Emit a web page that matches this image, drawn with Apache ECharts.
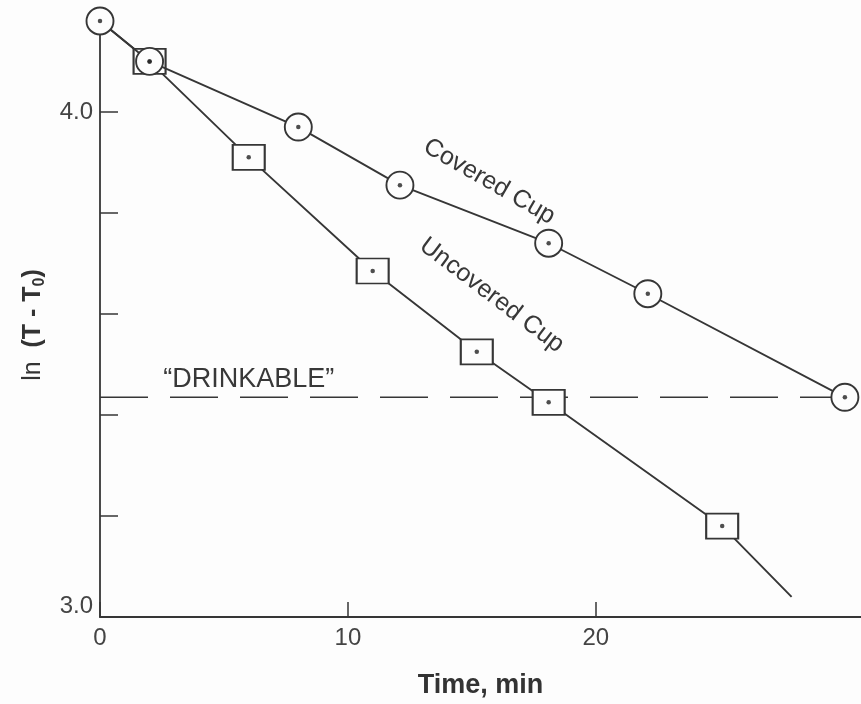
<!DOCTYPE html>
<html>
<head>
<meta charset="utf-8">
<script src="https://cdn.jsdelivr.net/npm/echarts@6/dist/echarts.min.js"></script>
<style>
html, body { margin: 0; padding: 0; background: #fdfdfd; }
#chart { width: 861px; height: 704px; }
</style>
</head>
<body>
<div id="chart"></div>
<script type="text/javascript">
// covered cup (circles)
var coveredTime = [0, 2, 8, 12.1, 18.1, 22.1, 30.05];
var coveredLn = [4.18, 4.10, 3.97, 3.855, 3.74, 3.64, 3.435];
// uncovered cup (squares); line starts at the first covered point and runs on past the last square
var uncoveredTime = [2, 6, 11, 15.2, 18.1, 25.1];
var uncoveredLn = [4.10, 3.91, 3.685, 3.525, 3.425, 3.18];
var uncoveredEnd = [27.9, 3.04];
// "drinkable" level
var drinkableLn = 3.435;
var xTickValues = [0, 10, 20];
var yTickValues = [3.2, 3.4, 3.6, 3.8, 4.0];
var yLabelValues = [3.0, 4.0];

var ink = '#363636';
var font = 'Liberation Sans, Arial, Helvetica, sans-serif';

function pairs(xs, ys) {
    return xs.map(function (x, i) { return [x, ys[i]]; });
}

var coveredData = pairs(coveredTime, coveredLn);
var squareData = pairs(uncoveredTime, uncoveredLn);
var uncoveredLine = [{ value: coveredData[0], symbol: 'none' }]
    .concat(squareData)
    .concat([{ value: uncoveredEnd, symbol: 'none' }]);

var chart = echarts.init(document.getElementById('chart'));
var option = {
    animation: false,
    backgroundColor: '#fdfdfd',
    grid: { left: 100, right: 0, top: 21, bottom: 87 },
    xAxis: {
        type: 'value',
        min: 0,
        max: 30.7,
        name: 'Time, min',
        nameLocation: 'middle',
        nameGap: 55,
        nameTextStyle: { fontFamily: font, fontSize: 27, fontWeight: 'bold', color: '#333' },
        axisLine: { lineStyle: { color: ink, width: 1.8 } },
        axisTick: { inside: true, length: 15, customValues: xTickValues, lineStyle: { color: ink, width: 1.5 } },
        axisLabel: { customValues: xTickValues, margin: 9, fontFamily: font, fontSize: 24, color: '#444' },
        splitLine: { show: false }
    },
    yAxis: {
        type: 'value',
        min: 3.0,
        max: 4.18,
        name: '{n|ln  }{b|(T - T}{s|0}{b|)}',
        nameLocation: 'middle',
        nameRotate: 90,
        nameGap: 52,
        nameTextStyle: {
            color: '#333',
            padding: [0, 12, 0, 0],
            rich: {
                n: { fontFamily: font, fontSize: 25, color: '#333', lineHeight: 30 },
                b: { fontFamily: font, fontSize: 25, fontWeight: 'bold', color: '#333', lineHeight: 30 },
                s: { fontFamily: font, fontSize: 16, fontWeight: 'bold', color: '#333', lineHeight: 30, verticalAlign: 'bottom' }
            }
        },
        axisLine: { lineStyle: { color: ink, width: 1.8 } },
        axisTick: { inside: true, length: 18, customValues: yTickValues, lineStyle: { color: ink, width: 1.5 } },
        axisLabel: {
            customValues: yLabelValues,
            margin: 7,
            fontFamily: font,
            fontSize: 24,
            color: '#444',
            formatter: function (v) {
                return v < 3.5 ? '{lo|' + v.toFixed(1) + '}' : v.toFixed(1);
            },
            rich: { lo: { fontFamily: font, fontSize: 24, color: '#444', padding: [0, 0, 22, 0] } }
        },
        splitLine: { show: false }
    },
    series: [
        {
            name: 'drinkable',
            type: 'line',
            z: 1,
            symbol: 'none',
            data: [[0, drinkableLn], [coveredTime[coveredTime.length - 1], drinkableLn]],
            lineStyle: { color: ink, width: 1.6, type: [48, 22] }
        },
        {
            name: 'Uncovered Cup',
            type: 'line',
            z: 2,
            symbol: 'rect',
            symbolSize: [32, 25],
            data: uncoveredLine,
            lineStyle: { color: ink, width: 1.9 },
            itemStyle: { color: '#fdfdfd', borderColor: ink, borderWidth: 1.9 }
        },
        {
            name: 'Covered Cup',
            type: 'line',
            z: 3,
            symbol: 'circle',
            symbolSize: 27,
            data: coveredData,
            lineStyle: { color: ink, width: 1.9 },
            itemStyle: { color: '#fdfdfd', borderColor: ink, borderWidth: 1.9 }
        },
        {
            name: 'dots',
            type: 'scatter',
            z: 4,
            symbolSize: 4.5,
            data: coveredData.concat(squareData),
            itemStyle: { color: '#222' }
        }
    ]
};
chart.setOption(option);

// 注释文字
function label(text, x, y, deg, size) {
    var p = chart.convertToPixel({ gridIndex: 0 }, [x, y]);
    return {
        type: 'text',
        x: p[0],
        y: p[1],
        rotation: -deg * Math.PI / 180,
        z: 10,
        style: {
            text: text,
            fontFamily: font,
            fontSize: size,
            fill: '#383838',
            align: 'center',
            verticalAlign: 'middle'
        }
    };
}

chart.setOption({
    graphic: [
        label('Covered Cup', 15.7, 3.862, 30, 25),
        label('Uncovered Cup', 15.8, 3.637, 37, 25),
        label('\u201cDRINKABLE\u201d', 6.0, 3.47, 0, 27)
    ]
});
</script>
</body>
</html>
